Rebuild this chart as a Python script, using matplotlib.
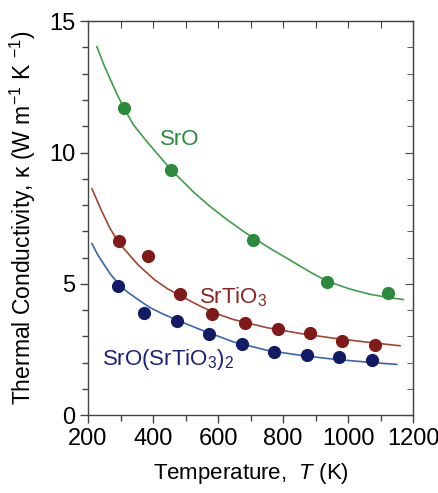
import matplotlib
matplotlib.use("Agg")
import matplotlib.pyplot as plt
from matplotlib.ticker import MultipleLocator

plt.rcParams['font.family'] = ['Liberation Sans', 'DejaVu Sans']
plt.rcParams['mathtext.fontset'] = 'custom'
plt.rcParams['mathtext.rm'] = 'Liberation Sans'
plt.rcParams['mathtext.it'] = 'Liberation Sans:italic'

# measured points
sro_T = [311, 455, 708, 936, 1123]
sro_k = [11.7, 9.35, 6.68, 5.07, 4.65]
sto_T = [294, 383, 482, 581, 683, 783, 883, 981, 1083]
sto_k = [6.62, 6.05, 4.6, 3.85, 3.49, 3.28, 3.14, 2.84, 2.68]
rp_T = [293, 372, 473, 573, 673, 772, 873, 971, 1074]
rp_k = [4.9, 3.89, 3.6, 3.1, 2.71, 2.42, 2.3, 2.2, 2.11]

# fitted curves
sro_fit_T = [227, 250, 268, 290, 311, 340, 382, 455, 524, 575, 627, 678, 709, 760, 822, 883, 936, 1006, 1068, 1124, 1170]
sro_fit_k = [14.03, 13.3, 12.8, 12.2, 11.68, 11.05, 10.4, 9.35, 8.5, 7.95, 7.45, 7.0, 6.75, 6.35, 5.9, 5.45, 5.1, 4.8, 4.6, 4.48, 4.4]
sto_fit_T = [212, 241, 266, 292, 354, 405, 446, 483, 545, 601, 647, 750, 852, 955, 1057, 1160]
sto_fit_k = [8.62, 7.8, 7.15, 6.6, 5.72, 5.15, 4.8, 4.55, 4.15, 3.84, 3.64, 3.33, 3.11, 2.93, 2.78, 2.64]
rp_fit_T = [212, 230, 251, 270, 294, 320, 354, 390, 427, 473, 545, 647, 750, 852, 955, 1057, 1150]
rp_fit_k = [6.53, 6.1, 5.7, 5.35, 5.0, 4.7, 4.4, 4.1, 3.87, 3.62, 3.26, 2.79, 2.47, 2.28, 2.13, 2.02, 1.93]

fig = plt.figure(figsize=(4.38, 4.93), dpi=100)
ax = fig.add_axes([0.201, 0.158, 0.742, 0.799])

ax.plot(sro_fit_T, sro_fit_k, color='#3f9e4a', lw=1.2)
ax.plot(sto_fit_T, sto_fit_k, color='#a2452f', lw=1.2)
ax.plot(rp_fit_T, rp_fit_k, color='#3867ad', lw=1.2)

ax.plot(sro_T, sro_k, 'o', color='#2a8a3a', ms=9.5, mec='none')
ax.plot(sto_T, sto_k, 'o', color='#7f1a18', ms=9.5, mec='none')
ax.plot(rp_T, rp_k, 'o', color='#121c66', ms=9.5, mec='none')

ax.text(482, 10.5, 'SrO', color='#2a8a3a', fontsize=16, ha='center', va='center')
ax.text(542, 4.5, 'SrTiO$_3$', color='#8a2420', fontsize=16, ha='left', va='center')
ax.text(243, 2.1, 'SrO(SrTiO$_3$)$_2$', color='#1a2378', fontsize=16, ha='left', va='center')

ax.set_xlim(200, 1200)
ax.set_ylim(0, 15)
ax.xaxis.set_major_locator(MultipleLocator(200))
ax.xaxis.set_minor_locator(MultipleLocator(100))
ax.yaxis.set_major_locator(MultipleLocator(5))
ax.yaxis.set_minor_locator(MultipleLocator(1))

edge = '#444444'
for s in ax.spines.values():
    s.set_color(edge)
    s.set_linewidth(1.0)
ax.tick_params(which='both', direction='out', color=edge, labelsize=17, pad=3, right=False, top=False)
ax.tick_params(which='major', length=6, width=1.0)
ax.tick_params(which='minor', length=4, width=1.0)

top = ax.secondary_xaxis('top')
top.xaxis.set_major_locator(MultipleLocator(100))
top.tick_params(direction='in', length=5, color=edge, labeltop=False)
top.spines['top'].set_color(edge)
right = ax.secondary_yaxis('right')
right.yaxis.set_major_locator(MultipleLocator(5))
right.yaxis.set_minor_locator(MultipleLocator(1))
right.tick_params(which='major', direction='in', length=6, color=edge, labelright=False)
right.tick_params(which='minor', direction='in', length=4, color=edge)
right.spines['right'].set_color(edge)

ax.set_xlabel('Temperature,  $T$ (K)', fontsize=16, labelpad=8)
ax.set_ylabel('Thermal Conductivity, κ (W m$^{-1}$ K $^{-1}$)', fontsize=16.5, labelpad=8)

fig.savefig('out.png', dpi=100)
